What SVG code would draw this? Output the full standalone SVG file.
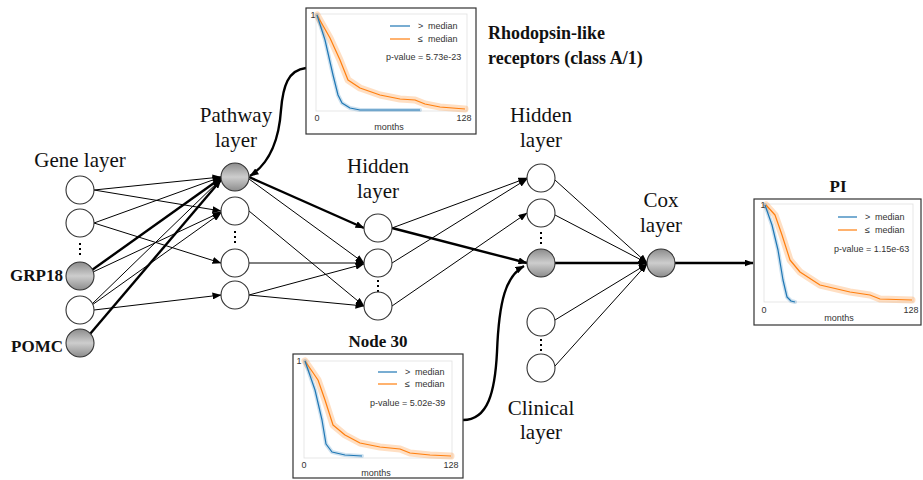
<svg xmlns="http://www.w3.org/2000/svg" width="923" height="480" viewBox="0 0 923 480">
<defs>
<linearGradient id="gray" x1="0" y1="0" x2="0" y2="1">
<stop offset="0" stop-color="#8c8c8c"/>
<stop offset="0.5" stop-color="#cdcdcd"/>
<stop offset="1" stop-color="#8c8c8c"/>
</linearGradient>
<marker id="arr" markerUnits="userSpaceOnUse" markerWidth="9" markerHeight="7" refX="8.5" refY="3.5" orient="auto">
<path d="M0,0 L9,3.5 L0,7 z" fill="#000"/>
</marker>
</defs>
<style>
.n{fill:#fff;stroke:#333;stroke-width:1.1}
.g{fill:url(#gray);stroke:#333;stroke-width:1.1}
.c{fill:none;stroke:#000;stroke-width:1;marker-end:url(#arr)}
.t{stroke-width:2.4}
.dots{stroke:#000;stroke-width:2;stroke-dasharray:2 3}
.lab{font-family:"Liberation Serif","Times New Roman",serif;font-size:21px;fill:#111;text-anchor:middle}
.bold{font-family:"Liberation Serif","Times New Roman",serif;font-size:17px;font-weight:bold;fill:#111}
.box{fill:#fff;stroke:#333;stroke-width:1.2}
.frame{fill:none;stroke:#e0e0e0;stroke-width:0.8}
.pt{font-family:"Liberation Sans",Arial,sans-serif;font-size:9px;fill:#333}
.bo{fill:none;stroke:#ff7f0e;stroke-opacity:0.25;stroke-width:7;stroke-linejoin:round;stroke-linecap:round}
.bb{fill:none;stroke:#1f77b4;stroke-opacity:0.22;stroke-width:4;stroke-linejoin:round;stroke-linecap:round}
.ko{fill:none;stroke:#ff7f0e;stroke-width:1.2;stroke-linejoin:round}
.kb{fill:none;stroke:#1f77b4;stroke-width:1.2;stroke-linejoin:round}
</style>

<g id="connectors">
<!-- gene -> pathway -->
<line class="c" x1="94" y1="190" x2="221" y2="177"/>
<line class="c" x1="94" y1="190" x2="221" y2="211"/>
<line class="c" x1="94" y1="223" x2="221" y2="177"/>
<line class="c" x1="94" y1="223" x2="221" y2="263"/>
<line class="c t" x1="92" y1="270" x2="221" y2="178"/>
<line class="c" x1="93" y1="272" x2="221" y2="212"/>
<line class="c" x1="92" y1="304" x2="221" y2="179"/>
<line class="c" x1="92" y1="305" x2="221" y2="213"/>
<line class="c" x1="94" y1="310" x2="221" y2="295"/>
<line class="c t" x1="90" y1="334" x2="221" y2="180"/>
<!-- pathway -> hidden -->
<line class="c t" x1="249" y1="177" x2="364" y2="228"/>
<line class="c" x1="249" y1="179" x2="364" y2="263"/>
<line class="c" x1="249" y1="211" x2="364" y2="306"/>
<line class="c" x1="249" y1="263" x2="364" y2="263"/>
<line class="c" x1="249" y1="295" x2="364" y2="264"/>
<line class="c" x1="249" y1="295" x2="364" y2="306"/>
<!-- hidden -> hidden -->
<line class="c" x1="392" y1="228" x2="527" y2="178"/>
<line class="c t" x1="392" y1="228" x2="527" y2="263"/>
<line class="c" x1="392" y1="263" x2="527" y2="179"/>
<line class="c" x1="392" y1="306" x2="527" y2="213"/>
<!-- hidden/clinical -> cox -->
<line class="c" x1="555" y1="180" x2="647" y2="263"/>
<line class="c" x1="555" y1="215" x2="647" y2="263"/>
<line class="c t" x1="555" y1="263" x2="647" y2="263"/>
<line class="c" x1="555" y1="320" x2="647" y2="264"/>
<line class="c" x1="555" y1="366" x2="647" y2="264"/>
<!-- cox -> PI -->
<line class="c t" x1="675" y1="263" x2="753" y2="263"/>
<!-- plot callouts -->
<path class="c t" d="M306,68 C288,70 283,86 281,110 C279,140 270,163 250,176"/>
<path class="c t" d="M463,420 C488,420 495,392 497,352 C499,300 506,276 524,266"/>
</g>

<g id="gene-layer">
<text class="lab" x="80" y="167">Gene layer</text>
<circle class="n" cx="80" cy="190" r="14"/>
<circle class="n" cx="80" cy="223" r="14"/>
<line class="dots" x1="80" y1="243" x2="80" y2="255"/>
<circle class="g" cx="80" cy="276" r="14"/>
<circle class="n" cx="80" cy="310" r="14"/>
<circle class="g" cx="80" cy="343" r="14"/>
<text class="bold" x="63" y="281" text-anchor="end">GRP18</text>
<text class="bold" x="63" y="352" text-anchor="end">POMC</text>
</g>

<g id="pathway-layer">
<text class="lab" x="236" y="122">Pathway</text>
<text class="lab" x="236" y="147">layer</text>
<circle class="g" cx="235" cy="177" r="14"/>
<circle class="n" cx="235" cy="211" r="14"/>
<line class="dots" x1="235" y1="231" x2="235" y2="243"/>
<circle class="n" cx="235" cy="263" r="14"/>
<circle class="n" cx="235" cy="295" r="14"/>
</g>

<g id="hidden-layer-1">
<text class="lab" x="378" y="173">Hidden</text>
<text class="lab" x="378" y="198">layer</text>
<circle class="n" cx="378" cy="228" r="14"/>
<circle class="n" cx="378" cy="263" r="14"/>
<line class="dots" x1="378" y1="280" x2="378" y2="292"/>
<circle class="n" cx="378" cy="306" r="14"/>
</g>

<g id="hidden-layer-2">
<text class="lab" x="541" y="122">Hidden</text>
<text class="lab" x="541" y="147">layer</text>
<circle class="n" cx="541" cy="178" r="14"/>
<circle class="n" cx="541" cy="213" r="14"/>
<line class="dots" x1="541" y1="232" x2="541" y2="244"/>
<circle class="g" cx="541" cy="263" r="14"/>
</g>

<g id="clinical-layer">
<circle class="n" cx="541" cy="322" r="14"/>
<line class="dots" x1="541" y1="339" x2="541" y2="351"/>
<circle class="n" cx="541" cy="368" r="14"/>
<text class="lab" x="541" y="415">Clinical</text>
<text class="lab" x="541" y="439">layer</text>
</g>

<g id="cox-layer">
<text class="lab" x="661" y="207">Cox</text>
<text class="lab" x="661" y="232">layer</text>
<circle class="g" cx="661" cy="263" r="14"/>
</g>

<g id="plot-rhodopsin">
<rect class="box" x="306" y="8" width="170" height="126"/>
<rect class="frame" x="316" y="14" width="151" height="97"/>
<text class="pt" x="313" y="18" text-anchor="middle">1</text>
<text class="pt" x="317" y="121" text-anchor="middle">0</text>
<text class="pt" x="464" y="121" text-anchor="middle">128</text>
<text class="pt" x="389" y="130" text-anchor="middle">months</text>
<line x1="390" y1="26" x2="410" y2="26" stroke="#1f77b4" stroke-width="1.2"/>
<line x1="390" y1="39" x2="410" y2="39" stroke="#ff7f0e" stroke-width="1.2"/>
<text class="pt" x="418" y="29">&gt;</text><text class="pt" x="428" y="29">median</text>
<text class="pt" x="418" y="42">≤</text><text class="pt" x="428" y="42">median</text>
<text class="pt" x="386" y="60">p-value = 5.73e-23</text>
<path class="bo" d="M317,15 L330,38 L340,60 L348,80 L360,88 L380,95 L400,99 L415,100 L425,104 L440,107 L465,109"/>
<path class="bb" d="M317,15 L325,40 L333,75 L338,95 L342,103 L350,108 L360,110 L420,110"/>
<path class="ko" d="M317,15 L330,38 L340,60 L348,80 L360,88 L380,95 L400,99 L415,100 L425,104 L440,107 L465,109"/>
<path class="kb" d="M317,15 L325,40 L333,75 L338,95 L342,103 L350,108 L360,110 L420,110"/>
</g>
<text class="bold" x="488" y="39" style="font-size:18px">Rhodopsin-like</text>
<text class="bold" x="488" y="64" style="font-size:18px">receptors (class A/1)</text>

<g id="plot-node30">
<text class="bold" x="378" y="347" text-anchor="middle">Node 30</text>
<rect class="box" x="293" y="354" width="170" height="124"/>
<rect class="frame" x="304" y="361" width="148" height="97"/>
<text class="pt" x="299" y="364" text-anchor="middle">1</text>
<text class="pt" x="304" y="468" text-anchor="middle">0</text>
<text class="pt" x="451" y="468" text-anchor="middle">128</text>
<text class="pt" x="376" y="476" text-anchor="middle">months</text>
<line x1="378" y1="372" x2="397" y2="372" stroke="#1f77b4" stroke-width="1.2"/>
<line x1="378" y1="384" x2="397" y2="384" stroke="#ff7f0e" stroke-width="1.2"/>
<text class="pt" x="405" y="375">&gt;</text><text class="pt" x="415" y="375">median</text>
<text class="pt" x="405" y="387">≤</text><text class="pt" x="415" y="387">median</text>
<text class="pt" x="370" y="406">p-value = 5.02e-39</text>
<path class="bo" d="M305,361 L318,380 L325,400 L333,425 L345,435 L360,443 L380,447 L400,449 L410,453 L430,455 L451,456"/>
<path class="bb" d="M305,361 L315,390 L322,420 L326,444 L332,452 L345,455 L362,456"/>
<path class="ko" d="M305,361 L318,380 L325,400 L333,425 L345,435 L360,443 L380,447 L400,449 L410,453 L430,455 L451,456"/>
<path class="kb" d="M305,361 L315,390 L322,420 L326,444 L332,452 L345,455 L362,456"/>
</g>

<g id="plot-pi">
<text class="bold" x="838" y="192" text-anchor="middle">PI</text>
<rect class="box" x="754" y="199" width="167" height="126"/>
<rect class="frame" x="764" y="204" width="149" height="98"/>
<text class="pt" x="763" y="208" text-anchor="middle">1</text>
<text class="pt" x="764" y="313" text-anchor="middle">0</text>
<text class="pt" x="911" y="313" text-anchor="middle">128</text>
<text class="pt" x="839" y="321" text-anchor="middle">months</text>
<line x1="838" y1="217" x2="857" y2="217" stroke="#1f77b4" stroke-width="1.2"/>
<line x1="838" y1="230" x2="857" y2="230" stroke="#ff7f0e" stroke-width="1.2"/>
<text class="pt" x="865" y="220">&gt;</text><text class="pt" x="875" y="220">median</text>
<text class="pt" x="865" y="233">≤</text><text class="pt" x="875" y="233">median</text>
<text class="pt" x="834" y="252">p-value = 1.15e-63</text>
<path class="bo" d="M766,205 L775,215 L782,235 L790,260 L800,272 L820,285 L850,292 L870,295 L880,299 L912,300"/>
<path class="bb" d="M765,205 L772,225 L778,250 L783,280 L787,297 L791,301 L795,302"/>
<path class="ko" d="M766,205 L775,215 L782,235 L790,260 L800,272 L820,285 L850,292 L870,295 L880,299 L912,300"/>
<path class="kb" d="M765,205 L772,225 L778,250 L783,280 L787,297 L791,301 L795,302"/>
</g>
</svg>
